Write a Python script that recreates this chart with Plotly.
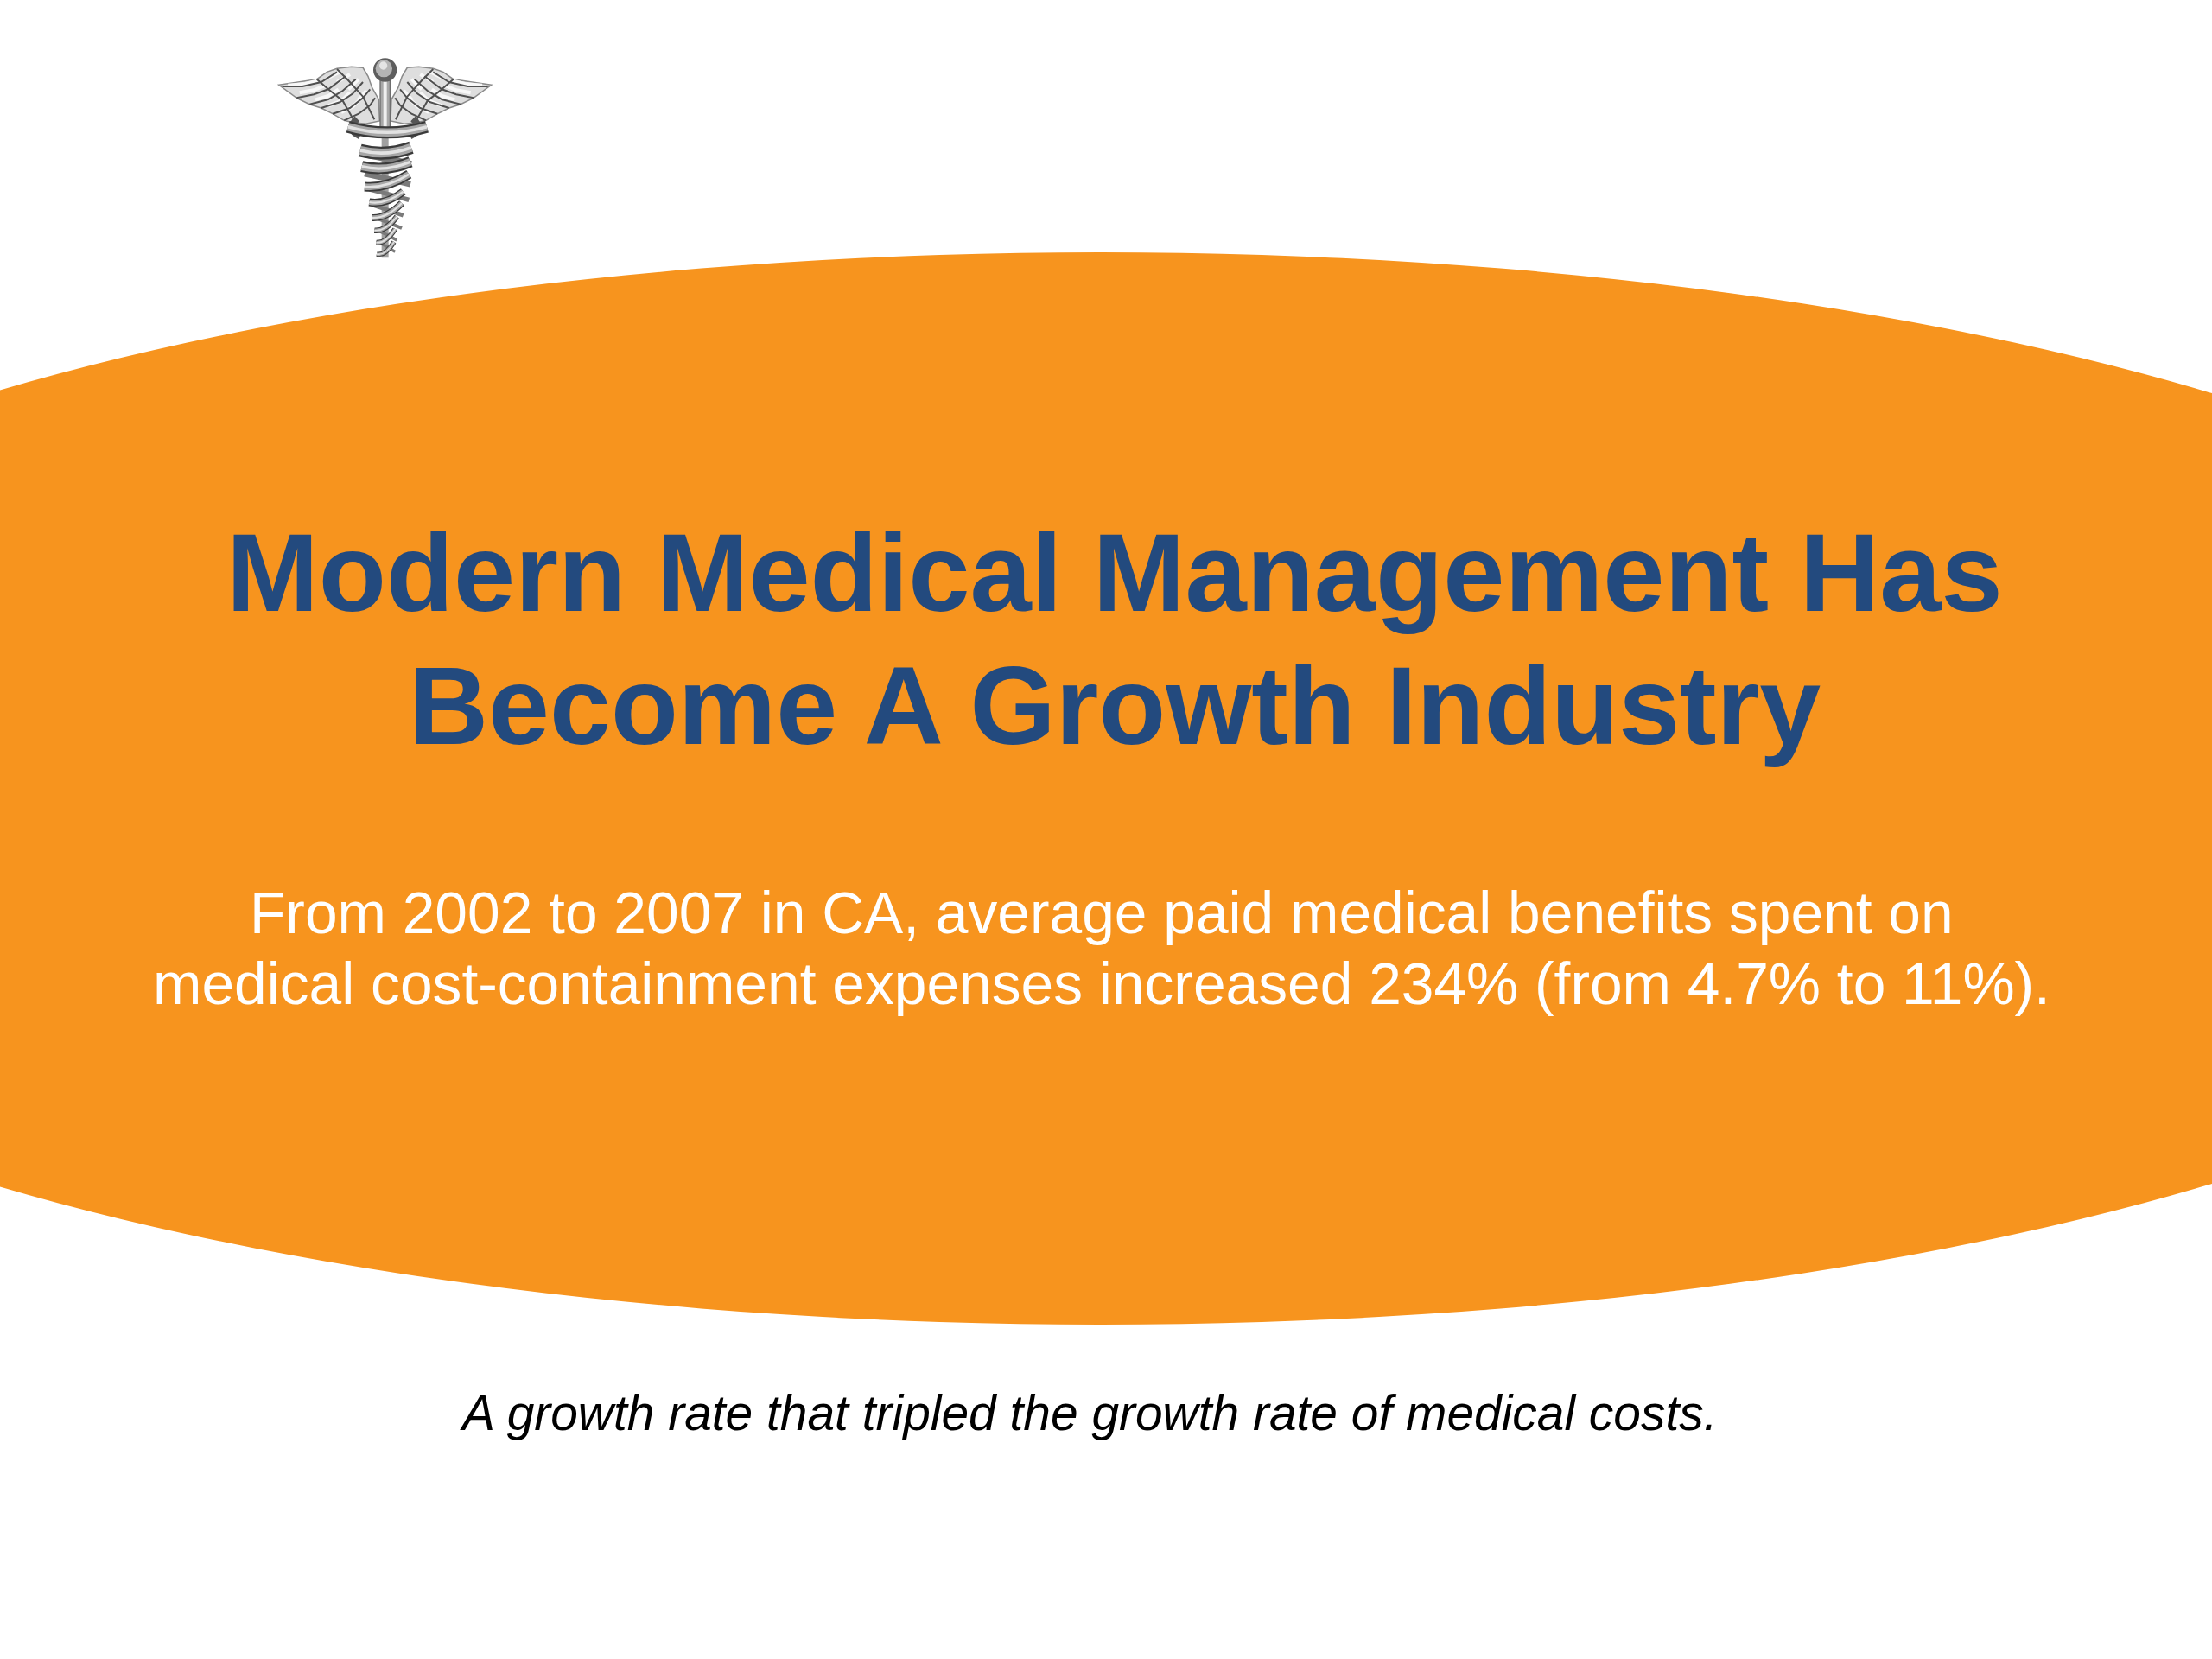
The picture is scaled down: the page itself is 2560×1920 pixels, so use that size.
import plotly.graph_objects as go

W, H = 2560, 1920
ORANGE = "#F7941E"
NAVY = "#234A7E"

title_lines = ["Modern Medical Management Has", "Become A Growth Industry"]
body_lines = ["From 2002 to 2007 in CA, average paid medical benefits spent on",
              "medical cost-containment expenses increased 234% (from 4.7% to 11%)."]
note_line = "A growth rate that tripled the growth rate of medical costs."

# caduceus sketch, in units of a 900x810 emblem box
AXIS = 437
wing_outline = [(68,145),(135,135),(200,125),(235,100),(270,88),(320,82),(360,85),(378,115),(392,155),(415,195),
                (418,270),(370,280),(325,275),(295,268),(255,245),(215,225),(175,212),(130,190)]
feather_lines = [
    [(80,150),(150,150),(215,135),(270,100)],
    [(130,190),(190,178),(240,160),(300,115)],
    [(175,212),(240,195),(290,165),(335,125)],
    [(215,225),(280,205),(325,175),(360,135)],
    [(255,245),(315,225),(360,190),(385,160)],
    [(295,268),(345,245),(385,215),(402,190)],
    [(200,125),(240,160),(290,200),(330,270)],
    [(270,90),(310,130),(360,185),(400,265)],
]
feather_glints = [
    [(100,146),(160,141),(205,130)],
    [(140,172),(190,163),(225,148)],
    [(195,196),(240,183),(275,160)],
    [(240,217),(285,200),(315,172)],
    [(285,240),(325,220),(355,190)],
    [(240,120),(280,100)],
    [(270,135),(315,108)],
    [(310,160),(345,125)],
    [(345,195),(372,165)],
]
# front bands of the coiled snakes: left end, right end, stroke width
band_left = [(308,290),(350,372),(356,428),(366,498),(382,552),(392,606),(400,650),(406,692),(408,732)]
band_right = [(582,290),(528,362),(525,412),(520,455),(500,515),(495,555),(478,602),(472,645),(468,690)]
band_width = [14, 15, 13, 11, 9, 8, 6.5, 6, 5.5]

def px(p):
    return 300 + p[0] / 3, 50 + p[1] / 3

def mirror(p):
    return (2 * AXIS - p[0], p[1])

def line_path(points, close=False):
    s = " ".join(("M" if i == 0 else "L") + " %.1f %.1f" % px(p) for i, p in enumerate(points))
    return s + (" Z" if close else "")

shapes = [dict(type="circle", xref="x", yref="y", x0=1274-1903, x1=1274+1903, y0=292, y1=1533,
               fillcolor=ORANGE, line_width=0, layer="below")]

for flip in (False, True):
    f = (mirror if flip else (lambda p: p))
    shapes.append(dict(type="path", path=line_path([f(p) for p in wing_outline], True),
                       fillcolor="#DEDEDE", line=dict(color="#8A8A8A", width=1.5)))
    for g in feather_glints:
        shapes.append(dict(type="path", path=line_path([f(p) for p in g]),
                           line=dict(color="#F8F8F8", width=4)))
    for l in feather_lines:
        shapes.append(dict(type="path", path=line_path([f(p) for p in l]),
                           line=dict(color="#505050", width=2)))

def rect(a, b, fill, line=None):
    return dict(type="rect", x0=px(a)[0], x1=px(b)[0], y0=px(a)[1], y1=px(b)[1], fillcolor=fill,
                line=line or dict(width=0))

# staff
shapes.append(rect((AXIS-17, 120), (AXIS+17, 310), "#A8A8A8", dict(color="#666666", width=1.2)))
shapes.append(rect((AXIS-6, 120), (AXIS+6, 310), "#EFEFEF"))
shapes.append(rect((AXIS-12, 310), (AXIS+12, 745), "#A0A0A0"))
# ball
x0, y0 = px((AXIS-41, 52)); x1, y1 = px((AXIS+41, 134))
shapes.append(dict(type="circle", x0=x0, x1=x1, y0=y0, y1=y1, fillcolor="#5E5E5E", line_width=0))
x0, y0 = px((AXIS-33, 58)); x1, y1 = px((AXIS+25, 118))
shapes.append(dict(type="circle", x0=x0, x1=x1, y0=y0, y1=y1, fillcolor="#B4B4B4", line_width=0))
x0, y0 = px((AXIS-20, 64)); x1, y1 = px((AXIS+8, 92))
shapes.append(dict(type="circle", x0=x0, x1=x1, y0=y0, y1=y1, fillcolor="#E4E4E4", line_width=0))

# ring above the coils, open at the top
path = "M %.1f %.1f Q %.1f %.1f %.1f %.1f" % (*px((340,262)), *px((300,300)), *px((350,322)))
shapes.append(dict(type="path", path=path, line=dict(color="#555555", width=8)))
path = "M %.1f %.1f Q %.1f %.1f %.1f %.1f" % (*px((534,262)), *px((574,300)), *px((524,322)))
shapes.append(dict(type="path", path=path, line=dict(color="#555555", width=8)))

# back bands (opposite slope) first, then the front bands
for a, b, w in zip(band_left[2:], band_right[1:], band_width[2:]):
    path = "M %.1f %.1f Q %.1f %.1f %.1f %.1f" % (*px((a[0], a[1]-45)), *px(((a[0]+b[0])/2, a[1]-28)), *px((b[0], a[1]-8)))
    shapes.append(dict(type="path", path=path, line=dict(color="#7A7A7A", width=w*0.6)))
for i, (a, b, w) in enumerate(zip(band_left, band_right, band_width)):
    sag = 28 if i else 40
    c = ((a[0]+b[0])/2, (a[1]+b[1])/2 + sag)
    path = "M %.1f %.1f Q %.1f %.1f %.1f %.1f" % (*px(a), *px(c), *px(b))
    shapes.append(dict(type="path", path=path, line=dict(color="#3A3A3A", width=w)))
    shapes.append(dict(type="path", path=path, line=dict(color="#A6A6A6", width=w*0.68)))
    shapes.append(dict(type="path", path=path, line=dict(color="#E2E2E2", width=w*0.25)))

def label(text, x, y, size, color, bold=False, italic=False):
    t = text
    if bold:
        t = "<b>%s</b>" % t
    if italic:
        t = "<i>%s</i>" % t
    return dict(text=t, x=x, y=y, xref="x", yref="y", showarrow=False, xanchor="center", yanchor="middle",
                font=dict(family="Liberation Sans", size=size, color=color))

annotations = [
    label(title_lines[0], 1290, 662, 128, NAVY, bold=True),
    label(title_lines[1], 1290, 817, 127.5, NAVY, bold=True),
    label(body_lines[0], 1275, 1056, 67.7, "#FFFFFF"),
    label(body_lines[1], 1275, 1138, 67.7, "#FFFFFF"),
    label(note_line, 1259, 1635, 56.9, "#000000", italic=True),
]

fig = go.Figure()
fig.update_layout(width=W, height=H, margin=dict(l=0, r=0, t=0, b=0), autosize=False,
                  paper_bgcolor="white", plot_bgcolor="white", showlegend=False,
                  xaxis=dict(range=[0, W], visible=False, fixedrange=True),
                  yaxis=dict(range=[H, 0], visible=False, fixedrange=True),
                  shapes=shapes, annotations=annotations)
fig.write_html("out.html", config=dict(displayModeBar=False),
               post_script="document.body.style.margin='0';")
